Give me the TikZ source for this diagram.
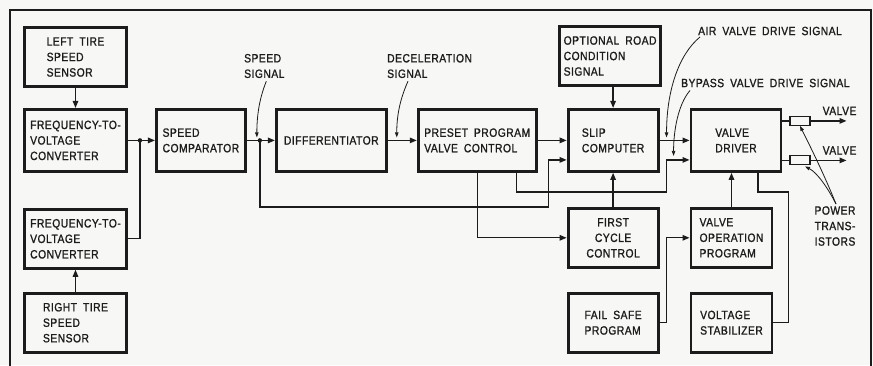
\documentclass[tikz,border=0pt]{standalone}
\usepackage{fontspec}
\usetikzlibrary{arrows.meta, positioning, calc}
\newfontfamily\lettering[FakeStretch=0.86,FakeBold=1.2,LetterSpace=4,WordSpace=1.8]{Liberation Sans}
\definecolor{ink}{HTML}{1C1C1C}
\definecolor{paper}{HTML}{F7F7F5}

\begin{document}
\begin{tikzpicture}[
  x=1pt, y=-1pt,
  every node/.style={font=\lettering\fontsize{12}{15.5}\selectfont, text=ink},
  blk/.style={rectangle, draw=ink, line width=2.9pt, minimum width=#1, minimum height=59pt,
              align=left, inner sep=3pt},
  blk/.default=90pt,
  tall/.style={minimum height=62pt},
  arr/.style={draw=ink, line width=1.3pt, -{Triangle[length=7pt,width=5.5pt]}},
  wire/.style={draw=ink, line width=1.3pt},
  ptr/.style={draw=ink, line width=0.8pt, -{Triangle[length=5pt,width=3.5pt]}},
  lbl/.style={inner sep=0pt, align=left},
  tr/.style={rectangle, draw=ink, line width=1.1pt, minimum width=20pt, minimum height=9pt, inner sep=0pt},
  frame/.style={draw=ink, line width=1.6pt},
]
  \useasboundingbox (0,0) rectangle (873,365);
  \fill[paper] (0,0) rectangle (873,365);
  \draw[frame] (10,366) |- (871,10) -- (871,366);

  \node[blk=102pt] (ltire) at (75.5,57) {LEFT TIRE\\SPEED\\SENSOR};
  \node[blk=102pt, tall, below=20pt of ltire] (fvl) {FREQUENCY-TO-\\VOLTAGE\\CONVERTER};
  \node[blk=102pt, below=35pt of fvl] (fvr) {FREQUENCY-TO-\\VOLTAGE\\CONVERTER};
  \node[blk=102pt, below=22pt of fvr] (rtire) {RIGHT TIRE\\SPEED\\SENSOR};
  \node[blk=89pt, tall, right=27pt of fvl] (scomp) {SPEED\\COMPARATOR};
  \node[blk=110pt, tall, right=28pt of scomp] (diff) {DIFFERENTIATOR};
  \node[blk=118pt, tall, right=29pt of diff] (preset) {PRESET PROGRAM\\VALVE CONTROL};
  \node[blk, tall, right=29pt of preset] (slip) {SLIP\\COMPUTER};
  \node[blk=101pt, above=21pt of slip, xshift=-3pt] (road) {OPTIONAL ROAD\\CONDITION\\SIGNAL};
  \node[blk, align=center, below=34pt of slip] (first) {FIRST\\CYCLE\\CONTROL};
  \node[blk, below=23pt of first] (fail) {FAIL SAFE\\PROGRAM};
  \node[blk, tall, right=30pt of slip] (vdrv) {VALVE\\DRIVER};
  \node[blk=81pt, below=34pt of vdrv.south west, anchor=north west] (vop) {VALVE\\OPERATION\\PROGRAM};
  \node[blk=81pt, below=23pt of vop] (vstab) {VOLTAGE\\STABILIZER};
  \node[tr, right=7pt of vdrv.east, yshift=19.5pt] (tra) {};
  \node[tr, right=7pt of vdrv.east, yshift=-20pt] (trb) {};

  \coordinate (j1) at ($(fvl.east)+(12,0)$);
  \coordinate (j2) at ($(scomp.east)+(13,0)$);
  \coordinate (slipin) at ($(slip.west)+(0,19.5)$);
  \coordinate (vdin) at ($(vdrv.west)+(0,19.5)$);
  \coordinate (outa) at ($(tra.east)+(36,0)$);
  \coordinate (outb) at ($(trb.east)+(36,0)$);

  \draw[arr] (ltire) -- (fvl);
  \draw[arr] (rtire) -- (fvr);
  \draw[arr] (fvl) -- (scomp);
  \draw[wire] (fvr.east) -| (j1);
  \draw[arr] (scomp) -- (diff);
  \draw[arr] (j2) |- ($(preset.south east)+(11,34)$) |- (slipin);
  \draw[arr] (diff) -- (preset);
  \draw[arr] (preset) -- (slip);
  \draw[arr] ($(preset.south)+(39.5,0)$) |- ($(slip.south east)+(7,19)$) |- (vdin);
  \draw[arr] (preset.south) |- (first.west);
  \draw[arr] (slip.north |- road.south) -- (slip.north);
  \draw[arr] (first) -- (slip);
  \draw[arr] (slip) -- (vdrv);
  \draw[arr] (vop.north) -- (vop.north |- vdrv.south);
  \draw[arr] (fail.east) -- ++(7,0) |- (vop.west);
  \draw[wire] (vstab.east) -| ($(vdrv.south east)+(6,19)$) -| ($(vdrv.south)+(22,0)$);
  \draw[wire] (vdrv.east |- tra) -- (tra);
  \draw[wire] (vdrv.east |- trb) -- (trb);
  \draw[arr] (tra) -- (outa);
  \draw[arr] (trb) -- (outb);
  \fill[ink] (j1) circle (2.2pt);
  \fill[ink] (j2) circle (2.2pt);

  \node[lbl, anchor=west] (sslbl) at (244,66) {SPEED\\SIGNAL};
  \node[lbl, anchor=west] (declbl) at (387,66) {DECELERATION\\SIGNAL};
  \node[lbl, anchor=west] (airlbl) at (698,31) {AIR VALVE DRIVE SIGNAL};
  \node[lbl, anchor=west] (byplbl) at (681,83) {BYPASS VALVE DRIVE SIGNAL};
  \node[lbl] (valvea) at ($(outa)+(-7,-10)$) {VALVE};
  \node[lbl] (valveb) at ($(outb)+(-7,-10)$) {VALVE};
  \node[lbl, align=center] (ptlbl) at (835,226) {POWER\\TRANS-\\ISTORS};

  \coordinate (sstip) at ($(j2)+(-3,-3)$);
  \coordinate (dectip) at ($(diff.east)+(9,-3)$);
  \coordinate (airtip) at ($(slip.east)+(7,-3)$);
  \coordinate (byptip) at ($(vdin)+(-16,-4)$);

  \draw[ptr] ($(sslbl.south)+(2,3)$) .. controls +(-6,15) and +(0,-25) .. (sstip);
  \draw[ptr] ($(declbl.south west)+(21,3)$) .. controls +(-8,18) and +(0,-22) .. (dectip);
  \draw[ptr] ($(airlbl.west)+(2,6)$) .. controls +(-22,18) and +(0,-45) .. (airtip);
  \draw[ptr] ($(byplbl.south west)+(9,3)$) .. controls +(-12,14) and +(0,-25) .. (byptip);
  \draw[ptr] ($(ptlbl.north)+(1,-2)$) .. controls +(-12,-30) and +(10,20) .. (tra.south);
  \draw[ptr] ($(ptlbl.north)+(1,-2)$) .. controls +(-8,-16) and +(12,6) .. ($(trb.south)+(5,1)$);
\end{tikzpicture}
\end{document}
